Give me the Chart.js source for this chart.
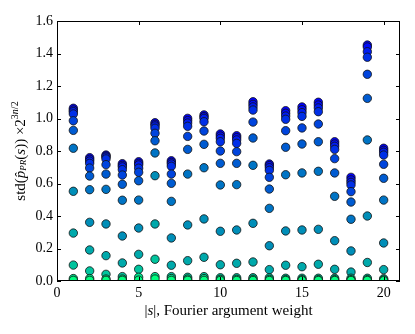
<!DOCTYPE html>
<html>
<head>
<meta charset="utf-8">
<script src="https://cdn.jsdelivr.net/npm/chart.js@4"></script>
<style>
  html, body { margin: 0; padding: 0; background: #fff; }
  #wrap { width: 415px; height: 334px; }
</style>
</head>
<body>
<div id="wrap"><canvas id="chart" width="415" height="334"></canvas></div>
<script>
// Fourier argument weight |s|
const weights = [1, 2, 3, 4, 5, 6, 7, 8, 9, 10, 11, 12, 13, 14, 15, 16, 17, 18, 19, 20];
const xTicks = [0, 5, 10, 15, 20];
const yTicks = [0, 0.2, 0.4, 0.6, 0.8, 1.0, 1.2, 1.4, 1.6];

// one array per run, top (blue) to bottom (green)
const series1  = [1.063, 0.759, 0.775, 0.722, 0.734, 0.974, 0.740, 1.001, 1.022, 0.905, 0.894, 1.103, 0.720, 1.048, 1.071, 1.100, 0.857, 0.638, 1.452, 0.817];
const series2  = [1.052, 0.749, 0.769, 0.712, 0.724, 0.964, 0.730, 0.987, 1.011, 0.892, 0.882, 1.087, 0.710, 1.032, 1.054, 1.083, 0.843, 0.622, 1.440, 0.804];
const series3  = [1.042, 0.738, 0.762, 0.702, 0.714, 0.954, 0.720, 0.972, 1.001, 0.878, 0.868, 1.071, 0.697, 1.015, 1.036, 1.065, 0.829, 0.607, 1.411, 0.792];
const series4  = [1.028, 0.724, 0.751, 0.685, 0.694, 0.940, 0.706, 0.952, 0.980, 0.857, 0.847, 1.052, 0.681, 0.995, 1.013, 1.042, 0.810, 0.591, 1.377, 0.775];
const series5  = [0.986, 0.695, 0.716, 0.652, 0.669, 0.909, 0.658, 0.890, 0.923, 0.800, 0.796, 0.978, 0.638, 0.925, 0.942, 0.966, 0.753, 0.550, 1.272, 0.718];
const series6  = [0.927, 0.646, 0.658, 0.595, 0.617, 0.863, 0.601, 0.810, 0.841, 0.724, 0.724, 0.880, 0.566, 0.823, 0.843, 0.857, 0.665, 0.486, 1.124, 0.632];
const series7  = [0.817, 0.562, 0.564, 0.497, 0.498, 0.788, 0.490, 0.658, 0.697, 0.591, 0.593, 0.712, 0.447, 0.654, 0.665, 0.675, 0.521, 0.380, 0.868, 0.498];
const series8  = [0.552, 0.361, 0.351, 0.277, 0.326, 0.648, 0.265, 0.345, 0.382, 0.306, 0.314, 0.355, 0.217, 0.308, 0.314, 0.318, 0.248, 0.185, 0.400, 0.234];
const series9  = [0.295, 0.191, 0.156, 0.111, 0.164, 0.351, 0.097, 0.125, 0.146, 0.100, 0.109, 0.117, 0.070, 0.097, 0.088, 0.103, 0.072, 0.055, 0.114, 0.070];
const series10 = [0.098, 0.062, 0.041, 0.027, 0.072, 0.134, 0.027, 0.023, 0.027, 0.020, 0.020, 0.020, 0.020, 0.017, 0.017, 0.017, 0.017, 0.017, 0.017, 0.014];
const series11 = [0.015, 0.015, 0.012, 0.012, 0.023, 0.027, 0.015, 0.012, 0.015, 0.010, 0.010, 0.010, 0.010, 0.008, 0.008, 0.008, 0.008, 0.008, 0.008, 0.007];
const series12 = [0.004, 0.004, 0.004, 0.004, 0.005, 0.012, 0.004, 0.004, 0.004, 0.003, 0.003, 0.003, 0.003, 0.003, 0.003, 0.003, 0.003, 0.003, 0.003, 0.002];

const allSeries = [series1, series2, series3, series4, series5, series6,
                   series7, series8, series9, series10, series11, series12];

// matplotlib "winter" colormap, sampled a little towards the blue end
function winter(t) {
    t = Math.pow(t, 1.3);
    return `rgb(0, ${Math.round(255 * t)}, ${Math.round(255 * (1 - t / 2))})`;
}

const SERIF = '"Liberation Serif", "DejaVu Serif", serif';

const datasets = allSeries.map((vals, i) => ({
    label: 'run ' + (i + 1),
    data: vals.map((v, j) => ({ x: weights[j], y: v })),
    backgroundColor: winter(i / (allSeries.length - 1)),
    borderColor: '#111',
    borderWidth: 0.8,
    pointRadius: 4.2,
    pointHoverRadius: 4.2,
    order: allSeries.length - i
}));

// draw runs of text (with sub/superscripts) centred on 0,0
function drawRuns(ctx, runs) {
    let total = 0;
    runs.forEach(r => {
        ctx.font = r.font;
        r.w = ctx.measureText(r.text).width;
        total += r.w;
    });
    let x = -total / 2;
    runs.forEach(r => {
        ctx.font = r.font;
        ctx.fillText(r.text, x, r.dy || 0);
        x += r.w;
    });
}

const framePlugin = {
    id: 'frame',
    afterDraw(chart) {
        const { ctx, chartArea: a, scales } = chart;
        ctx.save();
        ctx.strokeStyle = '#000';
        ctx.lineWidth = 1;
        ctx.strokeRect(Math.round(a.left) + 0.5, Math.round(a.top) + 0.5,
                       Math.round(a.right - a.left) - 1, Math.round(a.bottom - a.top) - 1);

        const len = 4;
        ctx.beginPath();
        xTicks.forEach(v => {
            const px = Math.round(scales.x.getPixelForValue(v)) + 0.5;
            ctx.moveTo(px, a.bottom); ctx.lineTo(px, a.bottom - len);
            ctx.moveTo(px, a.top); ctx.lineTo(px, a.top + len);
        });
        yTicks.forEach(v => {
            const py = Math.round(scales.y.getPixelForValue(v)) + 0.5;
            ctx.moveTo(a.left, py); ctx.lineTo(a.left + len, py);
            ctx.moveTo(a.right, py); ctx.lineTo(a.right - len, py);
        });
        ctx.stroke();

        ctx.fillStyle = '#000';
        ctx.textBaseline = 'middle';
        ctx.textAlign = 'left';

        // x axis title
        ctx.save();
        ctx.translate((a.left + a.right) / 2, 311);
        drawRuns(ctx, [
            { text: '|', font: '15px ' + SERIF },
            { text: 's', font: 'italic 15px ' + SERIF },
            { text: '|, Fourier argument weight', font: '15px ' + SERIF }
        ]);
        ctx.restore();

        // y axis title
        ctx.save();
        ctx.translate(21, (a.top + a.bottom) / 2);
        ctx.rotate(-Math.PI / 2);
        drawRuns(ctx, [
            { text: 'std(', font: '15px ' + SERIF },
            { text: 'p\u0302', font: 'italic 15px ' + SERIF },
            { text: 'PR', font: 'italic 9px ' + SERIF, dy: 3 },
            { text: '(', font: '15px ' + SERIF },
            { text: 's', font: 'italic 15px ' + SERIF },
            { text: ')) \u00d72', font: '15px ' + SERIF },
            { text: '3', font: '10px ' + SERIF, dy: -6 },
            { text: 'n', font: 'italic 10px ' + SERIF, dy: -6 },
            { text: '/2', font: '10px ' + SERIF, dy: -6 }
        ]);
        ctx.restore();
        ctx.restore();
    }
};

new Chart(document.getElementById('chart'), {
    type: 'scatter',
    data: { datasets },
    options: {
        responsive: false,
        animation: false,
        events: [],
        layout: { padding: { left: 0, top: 21, right: 15, bottom: 0 } },
        plugins: {
            legend: { display: false },
            tooltip: { enabled: false }
        },
        scales: {
            x: {
                type: 'linear',
                min: 0,
                max: 21,
                afterBuildTicks: s => { s.ticks = xTicks.map(v => ({ value: v })); },
                afterFit: s => { s.height = 53; },
                grid: { display: false, drawTicks: false },
                border: { display: false },
                ticks: {
                    padding: 4,
                    color: '#000',
                    maxRotation: 0,
                    font: { family: SERIF, size: 14 },
                    callback: v => String(v)
                }
            },
            y: {
                type: 'linear',
                min: 0,
                max: 1.6,
                afterBuildTicks: s => { s.ticks = yTicks.map(v => ({ value: v })); },
                afterFit: s => { s.width = 57; },
                grid: { display: false, drawTicks: false },
                border: { display: false },
                ticks: {
                    padding: 4,
                    color: '#000',
                    font: { family: SERIF, size: 14 },
                    callback: v => Number(v).toFixed(1)
                }
            }
        }
    },
    plugins: [framePlugin]
});
</script>
</body>
</html>
